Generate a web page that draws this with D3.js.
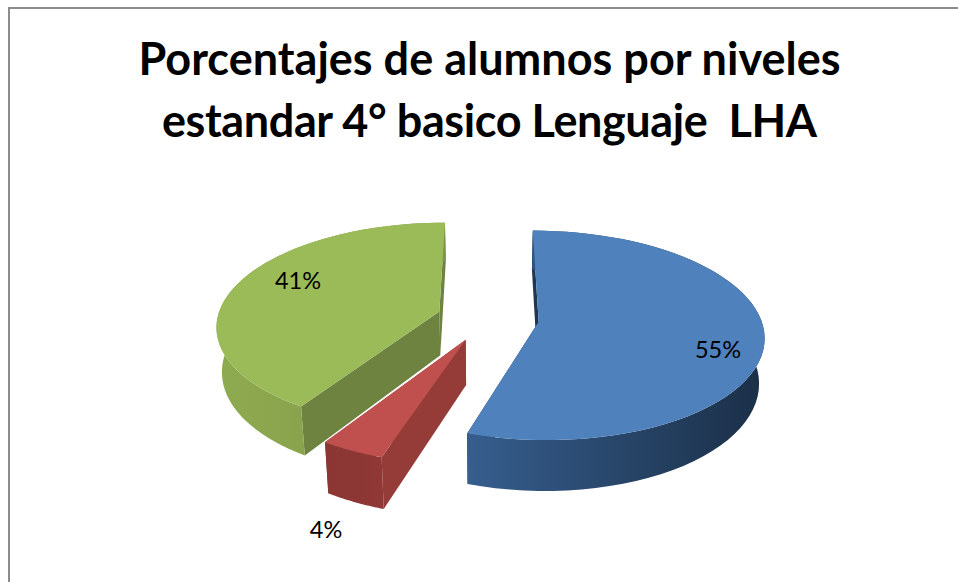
<!DOCTYPE html>
<html>
<head>
<meta charset="utf-8">
<script src="https://cdn.jsdelivr.net/npm/d3@7"></script>
<style>
  html, body { margin: 0; padding: 0; background: #fff; }
  svg { display: block; }
  text { font-family: Lato, "Open Sans", sans-serif; fill: #000; }
</style>
</head>
<body>
<div id="chart"></div>
<script>
const titleLines = ["Porcentajes de alumnos por niveles", "estandar 4° basico Lenguaje  LHA"];
const labels = ["55%", "4%", "41%"];
const values = [55, 4, 41];
const topColors = ["#4f81bd", "#c0504d", "#9bbb59"];
const faceColors = ["#1f3650", "#953c39", "#6e833f"];
const wallStops = [["#365e8e", "#1b2f47"], ["#8a3633", "#8f3835"], ["#8fab50", "#7d9646"]];

const width = 958, height = 582;

// pie layout, first slice starts straight back and goes clockwise
const arcs = d3.pie().sort(null)(values);

// ground plane to screen, with a bit of perspective
const cx = 488, cy = 318, rx = 222, ry = 102, persp = 0.13;
const explode = 0.23, depth = 44, squeeze = 0.98;

function project(X, Z, low) {
  const w = 1 / (1 - persp * Z);
  let x = rx * X * w;
  let y = ry * Z * w;
  if (low) {
    x = x * squeeze;
    y = y + depth * w;
  }
  return [cx + x, cy + y];
}

const svg = d3.select("#chart").append("svg")
  .attr("width", width)
  .attr("height", height);

const defs = svg.append("defs");
const line = d3.line();

// frame, only top and left show in the crop
svg.append("path")
  .attr("d", line([[9, height], [9, 8], [width, 8]]))
  .attr("fill", "none")
  .attr("stroke", "#8c8c8c")
  .attr("stroke-width", 2);

// title
const titleWidths = [702, 655];
svg.selectAll(".title")
  .data(titleLines)
  .enter().append("text")
  .attr("class", "title")
  .attr("x", 489.5)
  .attr("y", (d, i) => 75 + i * 62)
  .attr("text-anchor", "middle")
  .attr("font-size", 45)
  .attr("font-weight", 700)
  .attr("textLength", (d, i) => titleWidths[i])
  .attr("lengthAdjust", "spacing")
  .style("white-space", "pre")
  .text(d => d);

// back slices first so the near ones sit on top
const order = [2, 0, 1];

order.forEach(i => {
  const a = arcs[i];
  const mid = (a.startAngle + a.endAngle) / 2;
  const ox = Math.sin(mid) * explode;
  const oz = -Math.cos(mid) * explode;
  const rim = d3.range(0, 61).map(k => a.startAngle + (a.endAngle - a.startAngle) * k / 60);
  const pt = (ang, low) => project(ox + Math.sin(ang), oz - Math.cos(ang), low);
  const apex = low => project(ox, oz, low);

  const g = svg.append("g").attr("class", "slice");

  // radial faces
  [a.startAngle, a.endAngle].forEach(ang => {
    g.append("path")
      .attr("d", line([apex(false), pt(ang, false), pt(ang, true), apex(true)]) + "Z")
      .attr("fill", faceColors[i]);
  });

  // outer wall
  const upper = rim.map(ang => pt(ang, false));
  const lower = rim.map(ang => pt(ang, true)).reverse();
  const xs = upper.map(p => p[0]);
  const grad = defs.append("linearGradient")
    .attr("id", "wall" + i)
    .attr("gradientUnits", "userSpaceOnUse")
    .attr("x1", d3.min(xs)).attr("x2", d3.max(xs))
    .attr("y1", 0).attr("y2", 0);
  wallStops[i].forEach((c, k) => {
    grad.append("stop").attr("offset", k).attr("stop-color", c);
  });
  g.append("path")
    .attr("d", line(upper.concat(lower)) + "Z")
    .attr("fill", `url(#wall${i})`);

  // top
  g.append("path")
    .attr("d", line([apex(false)].concat(upper)) + "Z")
    .attr("fill", topColors[i]);
});

// data labels
const labelPos = [[718, 358], [326, 538], [298, 289]];
svg.selectAll(".label")
  .data(labels)
  .enter().append("text")
  .attr("class", "label")
  .attr("x", (d, i) => labelPos[i][0])
  .attr("y", (d, i) => labelPos[i][1])
  .attr("text-anchor", "middle")
  .attr("font-size", 23.5)
  .text(d => d);
</script>
</body>
</html>
